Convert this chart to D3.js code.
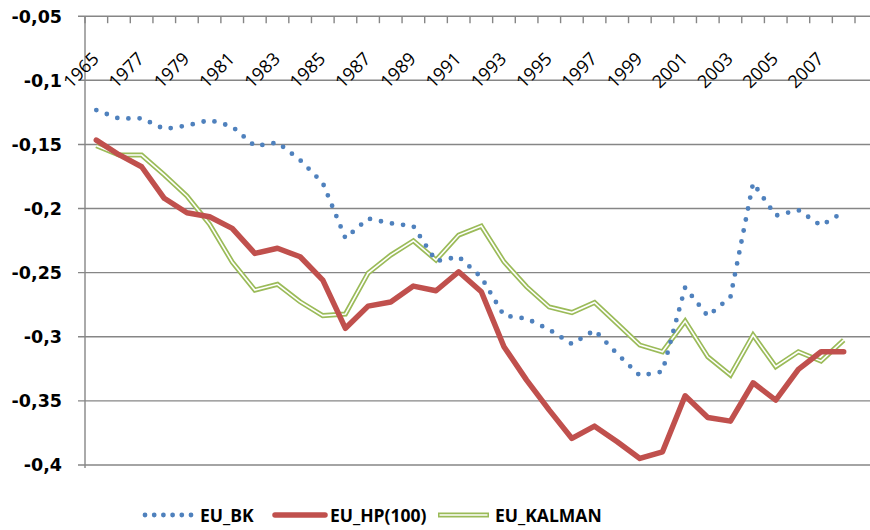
<!DOCTYPE html>
<html>
<head>
<meta charset="utf-8">
<script src="https://cdn.jsdelivr.net/npm/d3@7"></script>
<style>
  body { margin: 0; background: #fff; }
  .ylab { font-family: "DejaVu Sans", sans-serif; font-weight: bold; font-size: 17.5px; }
  .xlab { font-family: "Open Sans", sans-serif; font-size: 18px; }
  .leg { font-family: "Liberation Sans Narrow", "Open Sans", sans-serif; font-weight: bold; font-size: 17.5px; }
</style>
</head>
<body>
<svg id="chart" width="870" height="530"></svg>
<script>
// data
const years = ['1965'].concat(d3.range(1976, 2009).map(String));
const euBK = [-0.1232, -0.1298, -0.1296, -0.138, -0.1353, -0.131, -0.136, -0.1513, -0.1485, -0.1622,
  -0.1801, -0.2232, -0.2078, -0.2115, -0.2137, -0.241, -0.2376, -0.2536, -0.2835, -0.2858,
  -0.2944, -0.3057, -0.2949, -0.3133, -0.3303, -0.3271, -0.2615, -0.2839, -0.269, -0.1801,
  -0.2055, -0.2012, -0.2133, -0.2027];
const euHP = [-0.1466, -0.158, -0.1674, -0.192, -0.2033, -0.2064, -0.2155, -0.235, -0.231, -0.2376,
  -0.2558, -0.2934, -0.2761, -0.2729, -0.2605, -0.2641, -0.2493, -0.2649, -0.3078, -0.3338,
  -0.3572, -0.3793, -0.3697, -0.3819, -0.3949, -0.3897, -0.346, -0.3629, -0.3658, -0.3359,
  -0.3494, -0.3254, -0.3117, -0.3117];
const euKalman = [-0.151, -0.1583, -0.1583, -0.1737, -0.1902, -0.2122, -0.2417, -0.2636, -0.2591, -0.2727,
  -0.2835, -0.2823, -0.2503, -0.2363, -0.2251, -0.2402, -0.2207, -0.2137, -0.2415, -0.261,
  -0.2768, -0.2811, -0.2733, -0.2897, -0.3065, -0.3117, -0.2878, -0.3156, -0.3299, -0.2987,
  -0.3234, -0.3117, -0.319, -0.3026];
const yTicks = [-0.4, -0.35, -0.3, -0.25, -0.2, -0.15, -0.1, -0.05];
const seriesNames = ['EU_BK', 'EU_HP(100)', 'EU_KALMAN'];

const grey = '#868686';
const blue = '#4F81BD', red = '#C0504D', green = '#9BBB59';

const svg = d3.select('#chart');
const plotL = 85, plotR = 870, plotT = 16.2, plotB = 465;

const x = d3.scaleBand().domain(years).range([plotL, 855]);
const y = d3.scaleLinear().domain([-0.4, -0.05]).range([plotB, plotT]);
const cx = d => x(d) + x.bandwidth() / 2;

const loc = d3.formatLocale({ decimal: ',', thousands: '.', grouping: [3], currency: ['', ''], minus: '-' });
const fmt = loc.format('.2~f');

// gridlines
svg.append('g').selectAll('line')
  .data(yTicks)
  .enter().append('line')
    .attr('x1', plotL - 7).attr('x2', plotR)
    .attr('y1', d => y(d)).attr('y2', d => y(d))
    .attr('stroke', grey).attr('stroke-width', 1.4);

// y axis line
svg.append('line')
  .attr('x1', plotL).attr('x2', plotL)
  .attr('y1', plotT).attr('y2', plotB + 3)
  .attr('stroke', grey).attr('stroke-width', 1.4);

// y labels
svg.append('g').selectAll('text')
  .data(yTicks)
  .enter().append('text')
    .attr('class', 'ylab')
    .attr('x', 62)
    .attr('y', d => y(d) + 6.3)
    .attr('text-anchor', 'end')
    .text(d => fmt(d));

// category ticks hanging from the top line
const bounds = years.map(d => x(d)).concat([x.range()[1]]);
svg.append('g').selectAll('line')
  .data(bounds)
  .enter().append('line')
    .attr('x1', d => d).attr('x2', d => d)
    .attr('y1', plotT).attr('y2', plotT + 7)
    .attr('stroke', grey).attr('stroke-width', 1.4);

// category labels, every other one, slanted 45 degrees
const c45 = Math.SQRT1_2;
const xl = svg.append('g').selectAll('g')
  .data(years.filter((d, i) => i % 2 === 0))
  .enter().append('g')
    .attr('transform', d => 'matrix(' + c45 + ',' + (-c45) + ',' + c45 + ',' + c45 + ',' + (cx(d) - 15.5) + ',70)');
xl.append('text')
    .attr('class', 'xlab')
    .attr('x', 0)
    .attr('y', 6.5)
    .attr('text-anchor', 'middle')
    .text(d => d);

const line = d3.line()
  .x((d, i) => cx(years[i]))
  .y(d => y(d));

// EU_KALMAN: double line
svg.append('path').datum(euKalman)
  .attr('d', line).attr('fill', 'none')
  .attr('stroke', green).attr('stroke-width', 5).attr('stroke-linejoin', 'miter');
svg.append('path').datum(euKalman)
  .attr('d', line).attr('fill', 'none')
  .attr('stroke', '#fff').attr('stroke-width', 1.6).attr('stroke-linejoin', 'miter');

// EU_HP(100)
svg.append('path').datum(euHP)
  .attr('d', line).attr('fill', 'none')
  .attr('stroke', red).attr('stroke-width', 5.5)
  .attr('stroke-linejoin', 'round').attr('stroke-linecap', 'round');

// EU_BK: round dots
svg.append('path').datum(euBK)
  .attr('d', line).attr('fill', 'none')
  .attr('stroke', blue).attr('stroke-width', 4.8)
  .attr('stroke-linecap', 'round').attr('stroke-dasharray', '0 11.2');

// legend
const legY = 515;
const leg = svg.append('g');
leg.append('line').attr('x1', 145).attr('x2', 191).attr('y1', legY).attr('y2', legY)
  .attr('stroke', blue).attr('stroke-width', 4.8)
  .attr('stroke-linecap', 'round').attr('stroke-dasharray', '0 9.2');
leg.append('line').attr('x1', 275).attr('x2', 325).attr('y1', legY).attr('y2', legY)
  .attr('stroke', red).attr('stroke-width', 5.5).attr('stroke-linecap', 'round');
leg.append('line').attr('x1', 438).attr('x2', 489).attr('y1', legY).attr('y2', legY)
  .attr('stroke', green).attr('stroke-width', 5);
leg.append('line').attr('x1', 439.5).attr('x2', 487.5).attr('y1', legY).attr('y2', legY)
  .attr('stroke', '#fff').attr('stroke-width', 1.6);

leg.selectAll('text')
  .data(seriesNames)
  .enter().append('text')
    .attr('class', 'leg')
    .attr('x', (d, i) => [200, 330, 495][i])
    .attr('y', legY + 6.5)
    .text(d => d);
</script>
</body>
</html>
